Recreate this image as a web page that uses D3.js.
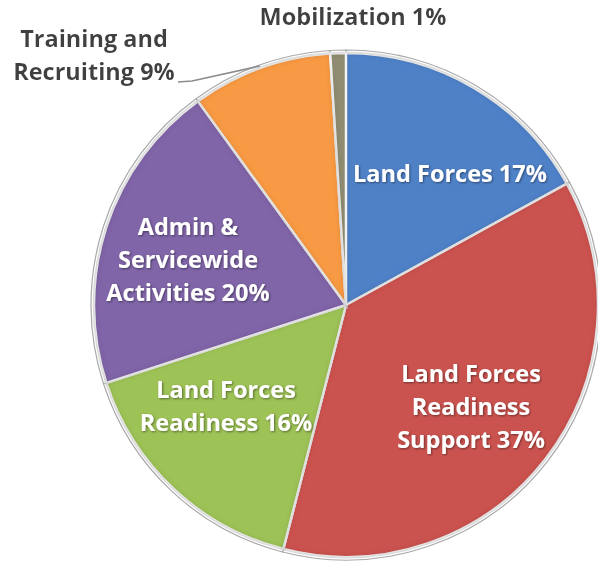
<!DOCTYPE html>
<html>
<head>
<meta charset="utf-8">
<script src="https://cdn.jsdelivr.net/npm/d3@7.9.0/dist/d3.min.js"></script>
<style>
  html, body { margin: 0; padding: 0; background: #fff; }
  svg { display: block; }
  text { font-family: "Open Sans", Lato, sans-serif; font-weight: 700; }
</style>
</head>
<body>
<svg width="598" height="563"></svg>
<script>
// slices, clockwise from 12 o'clock
const categories = ['Land Forces', 'Land Forces Readiness Support', 'Land Forces Readiness',
  'Admin & Servicewide Activities', 'Training and Recruiting', 'Mobilization'];
const shares = [17, 37, 16, 20, 9, 1];
const labelLines = [
  ['Land Forces 17%'],
  ['Land Forces', 'Readiness', 'Support 37%'],
  ['Land Forces', 'Readiness 16%'],
  ['Admin &', 'Servicewide', 'Activities 20%'],
  ['Training and', 'Recruiting 9%'],
  ['Mobilization 1%']
];
const colors = ['#4f81c7', '#cb5250', '#9dc257', '#8065a8', '#f89a45', '#8f8c72'];

// where the labels sit (x centre, first baseline), roughly like excel put them
const labelPos = [
  [450, 182], [471, 382], [226, 398], [188, 235], [94, 47], [353, 25]
];
const lineGap = 33;

const width = 598, height = 563;
const cx = 346, cy = 305, r = 252;

const svg = d3.select('svg');
const defs = svg.append('defs');

// inner shadow, gives the slices the bevelled look
const f = defs.append('filter').attr('id', 'bevel')
  .attr('x', '-5%').attr('y', '-5%').attr('width', '110%').attr('height', '110%');
f.append('feComponentTransfer').attr('in', 'SourceAlpha').attr('result', 'inv')
  .append('feFuncA').attr('type', 'table').attr('tableValues', '1 0');
f.append('feGaussianBlur').attr('in', 'inv').attr('stdDeviation', 3).attr('result', 'blur');
f.append('feFlood').attr('flood-color', '#000').attr('flood-opacity', 0.5).attr('result', 'col');
f.append('feComposite').attr('in', 'col').attr('in2', 'blur').attr('operator', 'in').attr('result', 'sh');
f.append('feComposite').attr('in', 'sh').attr('in2', 'SourceAlpha').attr('operator', 'in').attr('result', 'inner');
const fm = f.append('feMerge');
fm.append('feMergeNode').attr('in', 'SourceGraphic');
fm.append('feMergeNode').attr('in', 'inner');

const ds = defs.append('filter').attr('id', 'tshadow');
ds.append('feDropShadow').attr('dx', 1).attr('dy', 1).attr('stdDeviation', 0.8)
  .attr('flood-color', '#000').attr('flood-opacity', 0.45);

const glow = defs.append('filter').attr('id', 'glow');
glow.append('feDropShadow').attr('dx', 0).attr('dy', 0).attr('stdDeviation', 1.5)
  .attr('flood-color', '#fff').attr('flood-opacity', 1);

const data = categories.map((c, i) => ({ name: c, value: shares[i], lines: labelLines[i] }));

const pie = d3.pie().sort(null).value(d => d.value);
const arcs = pie(data);

const rim = d3.arc().innerRadius(0).outerRadius(r + 3);
const arc = d3.arc().innerRadius(0).outerRadius(r);

const g = svg.append('g').attr('transform', `translate(${cx},${cy})`);

g.selectAll('path.rim')
  .data(arcs)
  .join('path')
  .attr('class', 'rim')
  .attr('d', rim)
  .attr('fill', '#fff')
  .attr('stroke', '#a9a9a9')
  .attr('stroke-width', 1.2);

g.selectAll('path.slice')
  .data(arcs)
  .join('path')
  .attr('class', 'slice')
  .attr('d', arc)
  .attr('fill', (d, i) => colors[i])
  .attr('stroke', '#f4f4f4')
  .attr('stroke-width', 2.5)
  .attr('filter', 'url(#bevel)');

// leader line for the training slice
const tr = arcs[4];
const mid = (tr.startAngle + tr.endAngle) / 2;
const tip = [cx + (r + 2) * Math.sin(mid), cy - (r + 2) * Math.cos(mid)];
svg.append('polyline')
  .attr('points', [[178, 82], [192, 81], tip].map(p => p.join(',')).join(' '))
  .attr('fill', 'none')
  .attr('stroke', '#8c8c8c')
  .attr('stroke-width', 1.5);

// labels
arcs.forEach((d, i) => {
  const inside = i < 4;
  const t = svg.append('text')
    .attr('x', labelPos[i][0])
    .attr('y', labelPos[i][1])
    .attr('text-anchor', 'middle')
    .attr('font-size', 23.5)
    .attr('fill', inside ? '#fff' : '#404040')
    .attr('filter', inside ? 'url(#tshadow)' : 'url(#glow)');
  d.data.lines.forEach((line, k) => {
    t.append('tspan')
      .attr('x', labelPos[i][0])
      .attr('dy', k === 0 ? 0 : lineGap)
      .text(line);
  });
});
</script>
</body>
</html>
